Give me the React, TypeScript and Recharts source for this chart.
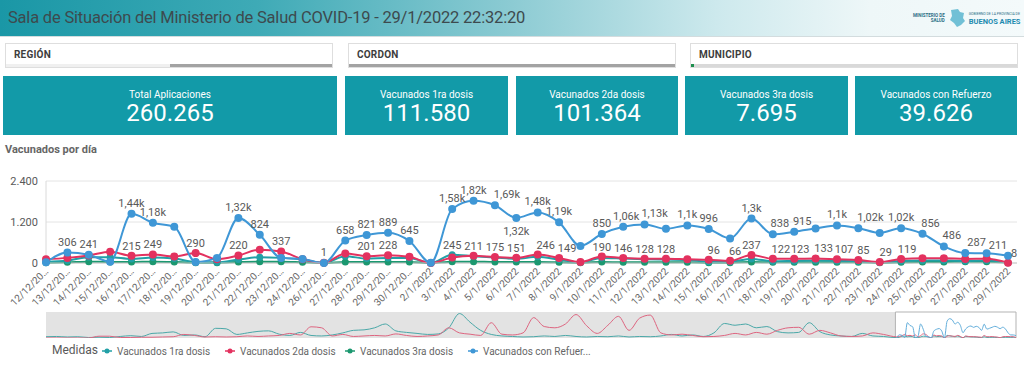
import React from "react"
import { LineChart, Line, XAxis, YAxis, CartesianGrid, LabelList, ReferenceArea } from "recharts"

// categorías del gráfico principal
const fechas = [
  "12/12/20…", "13/12/20…", "14/12/20…", "15/12/20…", "16/12/20…", "17/12/20…", "18/12/20…",
  "19/12/20…", "20/12/20…", "21/12/20…", "22/12/20…", "23/12/20…", "24/12/20…", "26/12/20…",
  "27/12/20…", "28/12/20…", "29/12/20…", "30/12/20…",
  "2/1/2022", "3/1/2022", "4/1/2022", "5/1/2022", "6/1/2022", "7/1/2022", "8/1/2022", "9/1/2022",
  "10/1/2022", "11/1/2022", "12/1/2022", "13/1/2022", "14/1/2022", "15/1/2022", "16/1/2022",
  "17/1/2022", "18/1/2022", "19/1/2022", "20/1/2022", "21/1/2022", "22/1/2022", "23/1/2022",
  "24/1/2022", "25/1/2022", "26/1/2022", "27/1/2022", "28/1/2022", "29/1/2022",
]

const refuerzo = [20, 306, 241, 40, 1440, 1180, 1060, 30, 150, 1320, 824, 150, 120, 1, 658, 821, 889, 645,
  5, 1580, 1820, 1690, 1320, 1480, 1190, 500, 850, 1060, 1130, 1000, 1100, 996, 720, 1300, 838, 915, 1010,
  1100, 1020, 880, 1020, 856, 486, 290, 287, 211]
const segunda = [110, 150, 220, 330, 215, 249, 190, 290, 110, 220, 390, 337, 110, 5, 280, 201, 228, 180,
  0, 160, 211, 175, 151, 246, 149, 30, 190, 146, 128, 128, 110, 96, 66, 237, 122, 123, 133, 107, 85, 29,
  119, 140, 140, 120, 125, 8]
const primera = [30, 70, 170, 170, 120, 160, 130, 30, 20, 100, 170, 150, 100, 0, 200, 130, 150, 150,
  0, 245, 200, 160, 120, 180, 100, 20, 150, 130, 110, 100, 90, 40, 40, 120, 50, 60, 70, 60, 50, 20,
  60, 70, 70, 60, 70, 10]
const tercera = [10, 20, 40, 30, 30, 40, 30, 10, 10, 30, 40, 40, 20, 0, 30, 30, 30, 30,
  0, 40, 40, 30, 30, 30, 20, 10, 30, 20, 20, 20, 20, 10, 10, 30, 20, 20, 20, 20, 20, 10,
  20, 30, 30, 40, 40, 10]

// qué puntos llevan etiqueta de valor
const etiquetasRefuerzo = [1, 2, 4, 5, 9, 10, 13, 14, 15, 16, 17, 19, 20, 21, 22, 23, 24, 26, 27, 28, 30, 31,
  33, 34, 35, 37, 38, 40, 41, 42, 44, 45]
const etiquetaRefuerzoAbajo = [22]
const etiquetasSegunda = [4, 5, 7, 9, 11, 15, 16, 20, 21, 22, 23, 24, 26, 27, 28, 29, 31, 32, 33, 34, 35, 36,
  37, 38, 39, 40, 45]
const etiquetasPrimera = [19]
// corrimientos horizontales para que las etiquetas no se pisen
const corrimiento: Record<string, number> = {
  "ref-21": 12, "ref-27": 3, "ref-28": 10, "ref-34": 7, "ref-35": 8, "ref-38": 12,
  "ref-41": 8, "ref-42": 8, "ref-44": -10, "ref-45": -10,
  "seg-23": 8, "seg-24": 8, "seg-31": 5, "seg-32": 5, "seg-34": 8, "seg-35": 6, "seg-36": 8,
  "seg-37": 7, "seg-38": 5, "seg-39": 6, "seg-40": 6, "seg-45": 6,
}

// historia completa para el mini gráfico (cada 4 días)
const miniPrimera = [120, 144, 96, 120, 48, 72, 48, 144, 216, 144, 432, 480, 576, 240, 288, 120, 912, 864,
  336, 480, 624, 672, 360, 240, 528, 240, 192, 288, 480, 720, 768, 960, 1320, 672, 528, 432, 336, 384, 960,
  2304, 1488, 720, 336, 192, 144, 96, 120, 192, 144, 240, 144, 96, 144, 120, 192, 96, 144, 120, 192, 336,
  192, 288, 144, 480, 1368, 1200, 1320, 960, 1080, 600, 480, 528, 1440, 600, 288, 192, 144, 432, 192, 144]
const miniSegunda = [0, 0, 0, 0, 0, 168, 168, 48, 48, 72, 72, 96, 120, 336, 240, 96, 120, 96, 120, 192,
  144, 192, 240, 432, 288, 1056, 960, 192, 336, 144, 192, 240, 192, 384, 240, 144, 192, 288, 960, 480,
  360, 240, 1440, 360, 288, 480, 1920, 1080, 960, 1320, 2208, 1152, 432, 1200, 2040, 720, 1872, 2160, 480,
  288, 360, 240, 120, 144, 240, 432, 288, 528, 360, 720, 960, 1008, 360, 720, 480, 192, 144, 192, 480, 336]

const AZUL = "#3f97d6"
const ROJO = "#e3325f"
const TEAL = "#22a0a6"
const VERDE = "#1c9870"
const TEXTO = "#595959"

function fmtMiles(v: number) {
  return String(v).replace(/\B(?=(\d{3})+(?!\d))/g, ".")
}

function fmtEtiqueta(v: number) {
  if (v >= 1000) {
    const s = (v / 1000).toFixed(2).replace(/0+$/, "").replace(/\.$/, "")
    return s.replace(".", ",") + "k"
  }
  return String(v)
}

const filas = fechas.map((fecha, i) => ({
  fecha,
  refuerzo: refuerzo[i],
  segunda: segunda[i],
  primera: primera[i],
  tercera: tercera[i],
  etqRef: etiquetasRefuerzo.includes(i) && !etiquetaRefuerzoAbajo.includes(i) ? fmtEtiqueta(refuerzo[i]) : undefined,
  etqRefAbajo: etiquetaRefuerzoAbajo.includes(i) ? fmtEtiqueta(refuerzo[i]) : undefined,
  etqSeg: etiquetasSegunda.includes(i) ? fmtEtiqueta(segunda[i]) : undefined,
  etqPri: etiquetasPrimera.includes(i) ? fmtEtiqueta(primera[i]) : undefined,
}))

const inicioVentana = miniPrimera.length * 4 + 1
const filasMini = [
  ...miniPrimera.map((p, i) => ({ d: i * 4, primera: p, segunda: miniSegunda[i] })),
  ...fechas.map((_, i) => ({
    d: inicioVentana + i,
    primera: primera[i],
    segunda: segunda[i],
    refuerzo: refuerzo[i],
  })),
]
const finMini = inicioVentana + fechas.length - 1

const etiqueta = (serie: string, dy: number) => (p: any) => {
  if (p.value === undefined || p.value === null || p.value === "") return null
  const x = p.x ?? p.viewBox?.x
  const y = p.y ?? p.viewBox?.y
  const dx = corrimiento[`${serie}-${p.index}`] ?? 0
  return (
    <text x={x + dx} y={y + dy} textAnchor="middle" fontSize={11} fill={TEXTO}>
      {p.value}
    </text>
  )
}

const TickFecha = (p: any) => (
  <text
    transform={`translate(${p.x + 3},${p.y + 1}) rotate(-45)`}
    textAnchor="end"
    fontSize={10}
    fill="#666"
  >
    {p.payload.value}
  </text>
)

function Filtro({ left, label, barra }: { left: number; label: string; barra: React.ReactNode }) {
  return (
    <div style={{ position: "absolute", left, top: 43, width: 328, height: 25, border: "1px solid #dedede", boxSizing: "border-box", background: "#fff" }}>
      <span style={{ position: "absolute", left: 8, top: 5, fontSize: 10, fontWeight: 700, color: "#3d3d3d", letterSpacing: 0.2 }}>{label}</span>
      <div style={{ position: "absolute", left: 0, right: 0, bottom: 0, height: 3, display: "flex" }}>{barra}</div>
    </div>
  )
}

function Tarjeta({ left, width, titulo, valor }: { left: number; width: number; titulo: string; valor: string }) {
  return (
    <div style={{ position: "absolute", left, top: 76, width, height: 59, background: "#129aa8", color: "#fff", textAlign: "center" }}>
      <div style={{ position: "absolute", left: 0, right: 0, top: 12, fontSize: 10, lineHeight: "13px" }}>{titulo}</div>
      <div style={{ position: "absolute", left: 0, right: 0, top: 23, fontSize: 24, lineHeight: "28px" }}>{valor}</div>
    </div>
  )
}

function ItemLeyenda({ left, color, texto }: { left: number; color: string; texto: string }) {
  return (
    <div style={{ position: "absolute", left, top: 0, display: "flex", alignItems: "center", height: 16 }}>
      <svg width={10} height={8} style={{ marginRight: 5 }}>
        <line x1={0} y1={4} x2={10} y2={4} stroke={color} strokeWidth={1.5} />
        <circle cx={5} cy={4} r={2.5} fill={color} />
      </svg>
      <span style={{ fontSize: 10, color: "#666" }}>{texto}</span>
    </div>
  )
}

export default function App() {
  return (
    <div style={{ position: "absolute", left: 0, top: 0, width: 1024, height: 368, overflow: "hidden", background: "#fff", fontFamily: "Roboto, 'Open Sans', sans-serif" }}>
      <div style={{ position: "absolute", left: 0, top: 0, width: 1024, height: 36, background: "linear-gradient(90deg, #1a97a6 0%, #3eaab6 25%, #8ccbd3 50%, #cde9ed 70%, #eef7f8 85%, #f4fafb 100%)", borderBottom: "1px solid #d3dcde" }}>
        <span style={{ position: "absolute", left: 8, top: 8, fontSize: 16.5, letterSpacing: -0.2, color: "#3d4a4e", whiteSpace: "nowrap" }}>
          Sala de Situación del Ministerio de Salud COVID-19 - 29/1/2022 22:32:20
        </span>
        <div style={{ position: "absolute", left: 913, top: 8, display: "flex", alignItems: "center", gap: 3 }}>
          <div style={{ fontSize: 4.5, lineHeight: "5px", color: "#2d6f86", textAlign: "right", fontWeight: 700 }}>
            MINISTERIO DE<br />SALUD
          </div>
          <svg width={18} height={20}>
            <path d="M3 2 L10 1 L12 4 L16 5 L15 10 L17 13 L13 17 L9 19 L6 15 L2 12 L4 8 Z" fill="#5bb6cf" opacity={0.85} />
          </svg>
          <div style={{ lineHeight: "7px" }}>
            <div style={{ fontSize: 3.5, color: "#2d6f86" }}>GOBIERNO DE LA PROVINCIA DE</div>
            <div style={{ fontSize: 7.5, fontWeight: 700, color: "#1d8bb0" }}>BUENOS AIRES</div>
          </div>
        </div>
      </div>

      <Filtro
        left={5}
        label="REGIÓN"
        barra={<>
          <div style={{ width: 164, background: "#f0f0f0" }} />
          <div style={{ flex: 1, background: "#a3a3a3" }} />
        </>}
      />
      <Filtro left={348} label="CORDON" barra={<div style={{ flex: 1, background: "#a3a3a3" }} />} />
      <Filtro
        left={690}
        label="MUNICIPIO"
        barra={<>
          <div style={{ width: 3, background: "#1e8f4e" }} />
          <div style={{ flex: 1, background: "#d9d9d9" }} />
        </>}
      />

      <Tarjeta left={3} width={334} titulo="Total Aplicaciones" valor="260.265" />
      <Tarjeta left={345} width={163} titulo="Vacunados 1ra dosis" valor="111.580" />
      <Tarjeta left={516} width={162} titulo="Vacunados 2da dosis" valor="101.364" />
      <Tarjeta left={685} width={163} titulo="Vacunados 3ra dosis" valor="7.695" />
      <Tarjeta left={855} width={162} titulo="Vacunados con Refuerzo" valor="39.626" />

      <div style={{ position: "absolute", left: 5, top: 143, fontSize: 11, fontWeight: 700, color: "#666" }}>Vacunados por día</div>

      <div style={{ position: "absolute", left: 0, top: 171 }}>
        <LineChart width={1024} height={140} data={filas} margin={{ top: 10, right: 7, left: 0, bottom: 0 }}>
          <CartesianGrid vertical={false} stroke="#e4e4e4" />
          <XAxis
            dataKey="fecha"
            interval={0}
            tick={<TickFecha />}
            height={48}
            axisLine={{ stroke: "#c8c8c8" }}
            tickLine={false}
            padding={{ left: 0, right: 9 }}
          />
          <YAxis
            domain={[0, 2400]}
            ticks={[0, 1200, 2400]}
            width={46}
            tickFormatter={fmtMiles}
            tick={{ fontSize: 11, fill: TEXTO }}
            axisLine={{ stroke: "#dadada" }}
            tickLine={false}
          />
          <Line dataKey="tercera" type="monotone" stroke={VERDE} strokeWidth={2} dot={{ r: 2.5, fill: VERDE, stroke: VERDE }} isAnimationActive={false} />
          <Line dataKey="primera" type="monotone" stroke={TEAL} strokeWidth={2} dot={{ r: 2.5, fill: TEAL, stroke: TEAL }} isAnimationActive={false}>
            <LabelList dataKey="etqPri" content={etiqueta("pri", -6)} />
          </Line>
          <Line dataKey="segunda" type="monotone" stroke={ROJO} strokeWidth={2} dot={{ r: 3, fill: ROJO, stroke: ROJO }} isAnimationActive={false}>
            <LabelList dataKey="etqSeg" content={etiqueta("seg", -6)} />
          </Line>
          <Line dataKey="refuerzo" type="monotone" stroke={AZUL} strokeWidth={2} dot={{ r: 3, fill: AZUL, stroke: AZUL }} isAnimationActive={false}>
            <LabelList dataKey="etqRef" content={etiqueta("ref", -7)} />
            <LabelList dataKey="etqRefAbajo" content={etiqueta("ref", 17)} />
          </Line>
        </LineChart>
      </div>

      <div style={{ position: "absolute", left: 0, top: 311 }}>
        <LineChart width={1024} height={27} data={filasMini} margin={{ top: 1, right: 8, left: 46, bottom: 0 }}>
          <XAxis dataKey="d" type="number" domain={[0, finMini]} hide />
          <YAxis domain={[0, 2450]} hide />
          <ReferenceArea x1={0} x2={inicioVentana - 0.5} fill="#e3e3e3" fillOpacity={1} stroke="none" />
          <ReferenceArea x1={inicioVentana - 0.5} x2={finMini} fill="#ffffff" fillOpacity={1} stroke="#b3b3b3" />
          <Line dataKey="primera" type="monotone" stroke="#4aa8a8" strokeWidth={1} dot={false} isAnimationActive={false} />
          <Line dataKey="segunda" type="monotone" stroke="#de6580" strokeWidth={1} dot={false} isAnimationActive={false} />
          <Line dataKey="refuerzo" type="monotone" stroke="#62aedb" strokeWidth={1} dot={false} isAnimationActive={false} />
        </LineChart>
      </div>

      <div style={{ position: "absolute", left: 0, top: 343, width: 1024, height: 18 }}>
        <span style={{ position: "absolute", left: 52, top: 0, fontSize: 12, color: TEXTO }}>Medidas</span>
        <ItemLeyenda left={102} color={TEAL} texto="Vacunados 1ra dosis" />
        <ItemLeyenda left={225} color={ROJO} texto="Vacunados 2da dosis" />
        <ItemLeyenda left={345} color={VERDE} texto="Vacunados 3ra dosis" />
        <ItemLeyenda left={468} color={AZUL} texto="Vacunados con Refuer..." />
      </div>
    </div>
  )
}
